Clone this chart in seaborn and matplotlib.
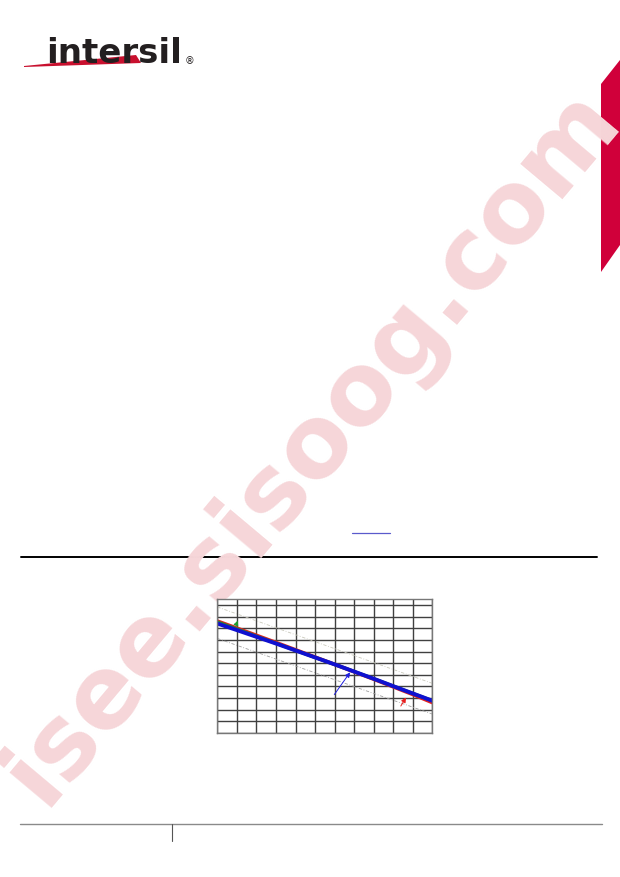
#datasheet page with a small trend chart, drawn with seaborn + matplotlib

import numpy as np
import pandas as pd
import matplotlib
matplotlib.use("Agg")
import matplotlib.pyplot as plt
from matplotlib.patches import Polygon
import seaborn as sns

#datos
x_pts = [0, 1, 2, 3, 4, 5, 6, 7, 8, 9, 10, 11]
blue_vals = [9.43, 8.86, 8.28, 7.70, 7.10, 6.50, 5.90, 5.28, 4.66, 4.02, 3.39, 2.76]
red_vals = [9.64, 9.03, 8.41, 7.79, 7.16, 6.53, 5.90, 5.26, 4.62, 3.96, 3.30, 2.60]
green_vals = [9.56, 8.95, 8.33, 7.72, 7.11, 6.50, 5.90, 5.28, 4.66, 4.02, 3.39, 2.76]
limit_x = [0, 11]
upper_vals = [10.86, 4.26]
lower_vals = [8.14, 1.61]

#flechas (cola -> punta) en unidades de datos
arrow_tails = [(0.92, 9.15), (5.90, 3.10), (9.31, 2.10)]
arrow_heads = [(1.10, 9.90), (6.87, 5.41), (9.72, 3.25)]
arrow_colors = ['#1f9a2e', '#2020e0', '#e82020']

sns.set_style('white')
fig = plt.figure(figsize=(6.2, 8.77), dpi=100)

#--- elementos de la pagina (coordenadas en pixeles) ---
page = fig.add_axes([0, 0, 1, 1], zorder=0)
page.set_xlim(0, 620)
page.set_ylim(877, 0)
page.axis('off')

#marca de agua
page.text(312, 446, 'isee.sisoog.com', fontsize=72, fontweight='bold',
          color='#f6d6d9', rotation=50, ha='center', va='center',
          rotation_mode='anchor', family='DejaVu Sans')

#logo
page.text(46, 63, 'intersil', fontsize=24.5, fontweight='bold',
          color='#231f20', ha='left', va='baseline', family='DejaVu Sans')
page.text(185, 64, '\u00ae', fontsize=7, color='#231f20', ha='left', va='baseline')
page.add_patch(Polygon([(24, 66), (136, 55), (141, 63), (24, 67)],
                       closed=True, color='#c8102e', lw=0))

#pestaña roja derecha
page.add_patch(Polygon([(601, 84), (620, 60), (620, 245), (601, 272)],
                       closed=True, color='#d0003a', lw=0))

#lineas de la pagina
page.plot([352, 390], [533, 533], color='#5a5acc', lw=0.9)
page.plot([21, 597], [557, 557], color='black', lw=1.4)
page.plot([20, 602], [824, 824], color='#8a8a8a', lw=1.0)
page.plot([172, 172], [824, 841], color='#555555', lw=0.8)

#--- grafico ---
ax = fig.add_axes([0.3505, 0.1645, 0.347, 0.1528], zorder=1)
df = pd.DataFrame({'x': x_pts, 'red': red_vals, 'green': green_vals, 'blue': blue_vals})

ax.plot(limit_x, upper_vals, color='#c9c9bc', lw=0.6, ls=(0, (4, 2, 1, 2)))
ax.plot(limit_x, lower_vals, color='#a0a0a0', lw=0.6, ls=(0, (4, 2, 1, 2)))
sns.lineplot(data=df, x='x', y='red', color='#e02020', lw=2.6, ax=ax)
sns.lineplot(data=df, x='x', y='green', color='#1f8a2e', lw=2.4, ax=ax)
sns.lineplot(data=df, x='x', y='blue', color='#1010d0', lw=2.8, ax=ax)

for (tx, ty), (hx, hy), c in zip(arrow_tails, arrow_heads, arrow_colors):
    ax.annotate('', xy=(hx, hy), xytext=(tx, ty),
                arrowprops=dict(arrowstyle='-|>', color=c, lw=0.7, mutation_scale=7))

ax.set_xlim(0, 11)
ax.set_ylim(0, 11.57)
ax.set_xticks(range(0, 12))
ax.set_yticks(range(0, 12))
ax.grid(True, color='#404040', lw=1.0)
ax.set_axisbelow(True)
ax.tick_params(length=0, labelbottom=False, labelleft=False)
ax.set_xlabel('')
ax.set_ylabel('')
for s in ax.spines.values():
    s.set_color('#777777')
    s.set_linewidth(1.0)

fig.savefig('out.png', dpi=100)
